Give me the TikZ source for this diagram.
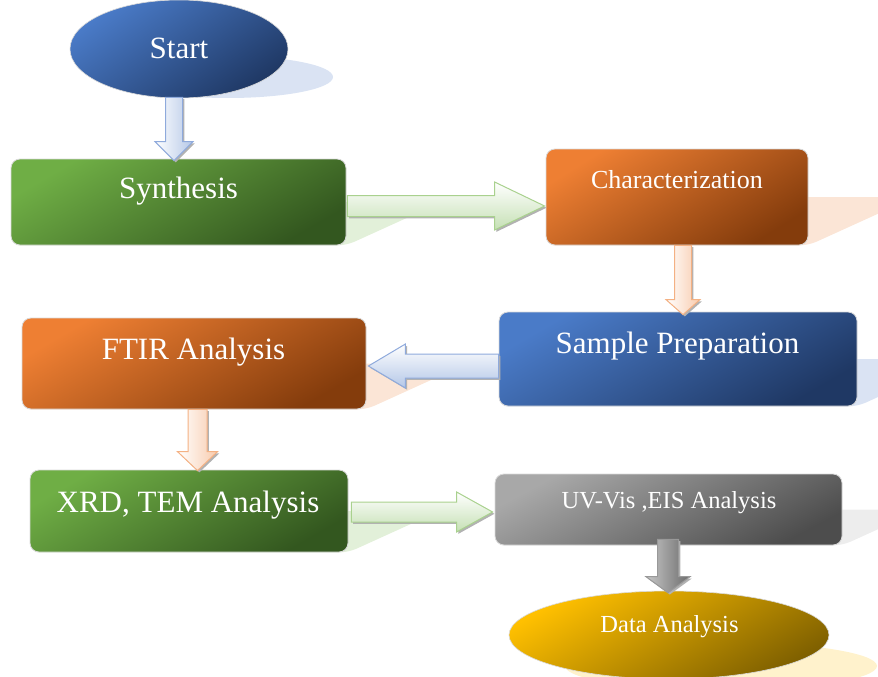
\documentclass[tikz,border=0pt]{standalone}
\usepackage{fontspec}
\setmainfont{Liberation Serif}
\usetikzlibrary{calc,shapes.geometric}
\pgfdeclarelayer{bg}
\pgfsetlayers{bg,main}

% fill colours
\definecolor{bluL}{HTML}{4A7BC8}\definecolor{bluD}{HTML}{1F3864}
\definecolor{grnL}{HTML}{6FAE45}\definecolor{grnD}{HTML}{33571F}
\definecolor{orgL}{HTML}{EE7F33}\definecolor{orgD}{HTML}{843C0C}
\definecolor{gryL}{HTML}{A8A8A8}\definecolor{gryD}{HTML}{4D4D4D}
\definecolor{gldL}{HTML}{FFC000}\definecolor{gldD}{HTML}{7F6000}
% arrow colours
\definecolor{bluA}{HTML}{B4C7E7}\definecolor{bluB}{HTML}{8FAADC}
\definecolor{grnA}{HTML}{C5E0B4}\definecolor{grnB}{HTML}{A9D18E}
\definecolor{orgA}{HTML}{F8CBAD}\definecolor{orgB}{HTML}{F4B183}
% shadow colours
\definecolor{bluS}{HTML}{DAE3F3}\definecolor{grnS}{HTML}{E2F0D9}
\definecolor{orgS}{HTML}{FBE5D6}\definecolor{gryS}{HTML}{EDEDED}
\definecolor{gldS}{HTML}{FFF2CC}

% perspective shadow behind a rounded box
\newcommand\boxshadow[2]{%
  \path[fill=#2, rounded corners=9pt]
    let \p1=(#1.south west), \p2=(#1.north east),
        \n1={(\y2-\y1)/2}, \n2={2.2*(\y2-\y1)/2} in
    (\x1,\y1) -- (\x2,\y1) -- ({\x2+\n2*1pt},{\y1+\n1*1pt})
    -- ({\x1+\n2*1pt},{\y1+\n1*1pt}) -- cycle;}

% downward block arrow: style, tail, tip, shaft half width, head half width, head length
\newcommand\vblock[6]{%
  \path[#1] ($(#2)+(-#4,0)$) -- ($(#3)+(-#4,-#6)$) -- ($(#3)+(-#5,-#6)$)
    -- (#3) -- ($(#3)+(#5,-#6)$) -- ($(#3)+(#4,-#6)$) -- ($(#2)+(#4,0)$) -- cycle;}
% horizontal block arrow (signed head length: positive points right)
\newcommand\hblock[6]{%
  \path[#1] ($(#2)+(0,-#4)$) -- ($(#3)+(-1*#6,-#4)$) -- ($(#3)+(-1*#6,-#5)$)
    -- (#3) -- ($(#3)+(-1*#6,#5)$) -- ($(#3)+(-1*#6,#4)$) -- ($(#2)+(0,#4)$) -- cycle;}

\begin{document}
\begin{tikzpicture}[x=1pt,y=-1pt,
  box/.style={rectangle, rounded corners=9pt, draw=white!85!black, line width=0.8pt},
  ell/.style={ellipse, inner sep=0pt, draw=white!85!black, line width=0.6pt},
  % diagonal gradient from the top-left corner to the bottom-right corner
  sh/.style n args={3}{top color=#1, bottom color=#2, shading angle=#3},
  lbl/.style={text=white, inner sep=0pt, anchor=base},
  big/.style={lbl, font=\fontsize{31}{31}\selectfont},
  mid/.style={lbl, font=\fontsize{26}{26}\selectfont},
  sml/.style={lbl, font=\fontsize{24.5}{24.5}\selectfont},
  ashadow/.style={preaction={fill=black!30, transform canvas={shift={(1.8pt,-1.8pt)}}}},
  varrow/.style 2 args={ashadow, left color=white, right color=#1, draw=#2, line width=1pt},
  harrow/.style 2 args={ashadow, top color=white, bottom color=#1, draw=#2, line width=1pt},
]
\useasboundingbox (0,0) rectangle (878,677);
\clip (0,0) rectangle (878,677);

% process steps
\node[ell, sh={bluL}{bluD}{35}, minimum width=218pt, minimum height=98pt] (start) at (179,49) {};
\node[box, sh={grnL}{grnD}{30}, minimum width=335pt, minimum height=86pt] (syn) at (178.5,202) {};
\node[box, sh={orgL}{orgD}{32}, minimum width=262pt, minimum height=96pt] (char) at (677,197) {};
\node[box, sh={bluL}{bluD}{30}, minimum width=358pt, minimum height=94pt] (samp) at (678,359) {};
\node[box, sh={orgL}{orgD}{30}, minimum width=344pt, minimum height=91pt] (ftir) at (194,363.5) {};
\node[box, sh={grnL}{grnD}{30}, minimum width=318pt, minimum height=82pt] (xrd) at (189,511) {};
\node[box, sh={gryL}{gryD}{28}, minimum width=347pt, minimum height=71pt] (uv) at (668.5,509.5) {};
\node[ell, sh={gldL}{gldD}{30}, minimum width=320pt, minimum height=88pt] (data) at (669,635) {};

% labels
\node[big] (startT) at (179,59) {Start};
\node[big] (synT) at (178.5,198) {Synthesis};
\node[mid] (charT) at (677,188) {Characterization};
\node[big] (sampT) at (677.5,353) {Sample Preparation};
\node[big] (ftirT) at (193.5,359) {FTIR Analysis};
\node[big] (xrdT) at (188,512) {XRD, TEM Analysis};
\node[sml] (uvT) at (669,508) {UV-Vis ,EIS Analysis};
\node[sml] (dataT) at (669.5,632) {Data Analysis};

% shadows
\begin{pgfonlayer}{bg}
  \fill[bluS] ($(start.center)+(49,28)$) ellipse [x radius=105, y radius=21];
  \fill[gldS] ($(data.center)+(52,31)$) ellipse [x radius=156, y radius=24];
  \boxshadow{syn}{grnS}
  \boxshadow{char}{orgS}
  \boxshadow{samp}{bluS}
  \boxshadow{ftir}{orgS}
  \boxshadow{xrd}{grnS}
  \boxshadow{uv}{gryS}
\end{pgfonlayer}

% connectors
\coordinate (a1s) at ($(start.south)+(-5,-1)$);
\coordinate (a1e) at ($(a1s |- syn.north)+(0,2)$);
\vblock{varrow={bluA}{bluB}}{a1s}{a1e}{8.5}{19}{19}

\coordinate (a2s) at ($(syn.east)+(1,4)$);
\coordinate (a2e) at ($(a2s -| char.west)+(-1,0)$);
\hblock{harrow={grnA}{grnB}}{a2s}{a2e}{10.5}{24}{50}

\coordinate (a3s) at ($(char.south)+(6,0)$);
\coordinate (a3e) at ($(a3s |- samp.north)+(0,3)$);
\vblock{varrow={orgA}{orgB}}{a3s}{a3e}{8.5}{17}{15}

\coordinate (a4s) at ($(samp.west)+(0,7)$);
\coordinate (a4e) at ($(a4s -| ftir.east)+(2,0)$);
\hblock{harrow={bluA}{bluB}}{a4s}{a4e}{12}{22}{-37}

\coordinate (a5s) at ($(ftir.south)+(3.5,0)$);
\coordinate (a5e) at ($(a5s |- xrd.north)+(0,1)$);
\vblock{varrow={orgA}{orgB}}{a5s}{a5e}{9.5}{20}{19}

\coordinate (a6s) at ($(xrd.east)+(3,1)$);
\coordinate (a6e) at ($(a6s -| uv.west)+(-2,0)$);
\hblock{harrow={grnA}{grnB}}{a6s}{a6e}{10}{20}{36}

\coordinate (a7s) at ($(uv.south)+(-0.5,-6)$);
\coordinate (a7e) at ($(a7s |- data.north)+(0,2)$);
\vblock{ashadow, left color=black!22, right color=black!58, draw=black!40, line width=1pt}{a7s}{a7e}{10.5}{22}{16}
\end{tikzpicture}
\end{document}
